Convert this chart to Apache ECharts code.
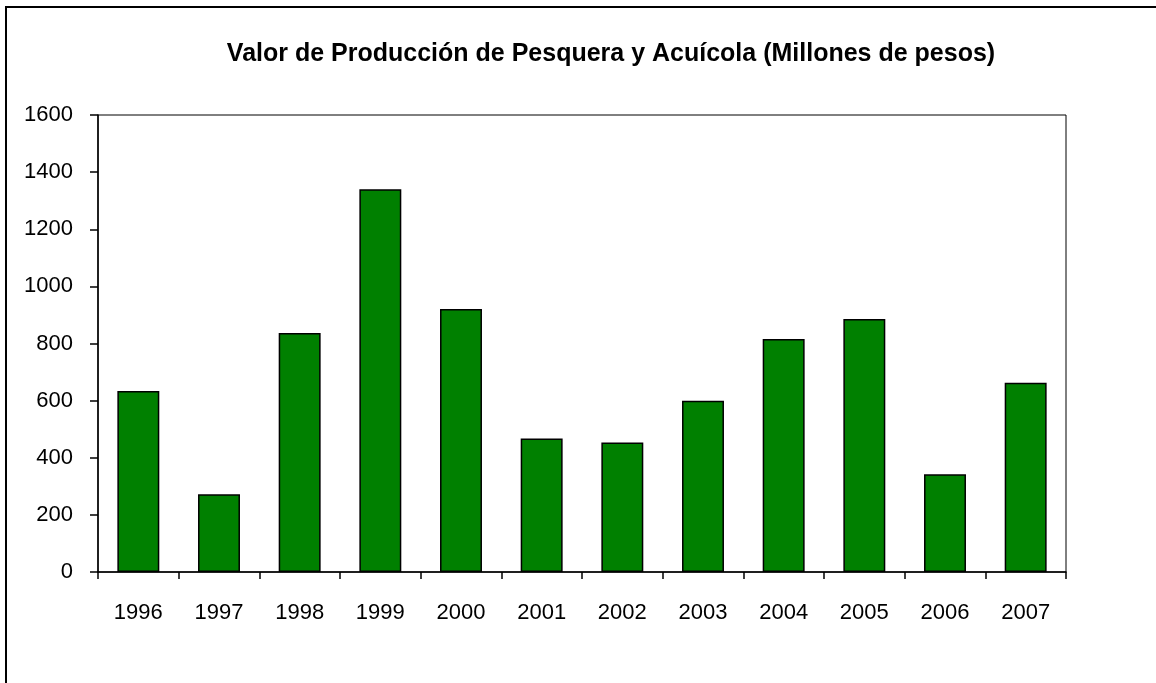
<!DOCTYPE html>
<html>
<head>
<meta charset="utf-8">
<script src="https://cdn.jsdelivr.net/npm/echarts@6/dist/echarts.min.js"></script>
<style>
  html, body { margin: 0; padding: 0; background: #fff; }
  #chart { width: 1156px; height: 683px; }
</style>
</head>
<body>
<div id="chart"></div>
<script>
// datos
const years = ['1996', '1997', '1998', '1999', '2000', '2001', '2002', '2003', '2004', '2005', '2006', '2007'];
const valores = [634, 272, 837, 1340, 921, 467, 453, 600, 816, 886, 342, 663];
const yTicks = [0, 200, 400, 600, 800, 1000, 1200, 1400, 1600];

const chart = echarts.init(document.getElementById('chart'));
const font = 'Liberation Sans, Arial, sans-serif';

chart.setOption({
  animation: false,
  backgroundColor: '#fff',
  title: {
    text: 'Valor de Producción de Pesquera y Acuícola (Millones de pesos)',
    left: 606,
    textAlign: 'center',
    top: 37,
    textStyle: { fontFamily: font, fontSize: 25, fontWeight: 'bold', color: '#000' }
  },
  graphic: [{
    type: 'rect',
    shape: { x: 6, y: 7, width: 1160, height: 690 },
    style: { fill: 'none', stroke: '#000', lineWidth: 2 },
    silent: true
  }],
  grid: {
    left: 98, right: 90, top: 115, bottom: 111,
    show: true, borderColor: '#000', borderWidth: 1
  },
  xAxis: {
    type: 'category',
    data: years,
    axisLine: { lineStyle: { color: '#000', width: 1.5 } },
    axisTick: { show: true, length: 7, lineStyle: { color: '#000', width: 1.5 } },
    axisLabel: { color: '#000', fontFamily: font, fontSize: 22, margin: 30 }
  },
  yAxis: {
    type: 'value',
    min: yTicks[0],
    max: yTicks[yTicks.length - 1],
    interval: 200,
    splitLine: { show: false },
    axisLine: { show: true, lineStyle: { color: '#000', width: 1.5 } },
    axisTick: { show: true, length: 8, lineStyle: { color: '#000', width: 1.5 } },
    axisLabel: {
      color: '#000', fontFamily: font, fontSize: 22, margin: 25,
      formatter: v => String(v)
    }
  },
  series: [{
    type: 'bar',
    data: valores,
    barCategoryGap: '48%',
    itemStyle: { color: '#008000', borderColor: '#000', borderWidth: 1.5 }
  }]
});
</script>
</body>
</html>
